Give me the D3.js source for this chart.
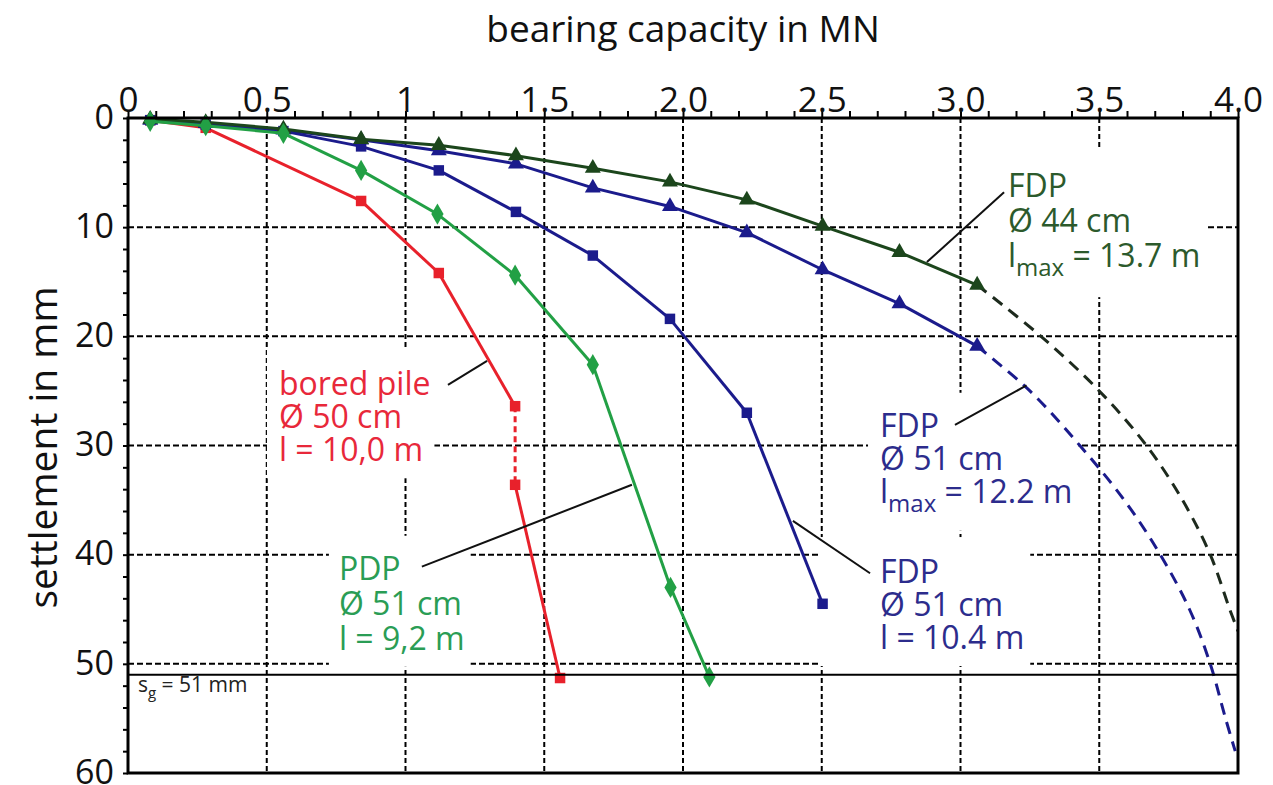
<!DOCTYPE html>
<html><head><meta charset="utf-8">
<script src="https://cdn.jsdelivr.net/npm/d3@7"></script>
<style>
body{margin:0;background:#fff}
svg{display:block}
text{font-family:"Open Sans",sans-serif}
</style>
</head><body>
<svg id="c" width="1273" height="785"></svg>
<script>
// ---------- data ----------
const xTicks = [0, 0.5, 1, 1.5, 2, 2.5, 3, 3.5, 4];
const xTickLabels = ["0", "0.5", "1", "1.5", "2.0", "2.5", "3.0", "3.5", "4.0"];
const yTicks = [0, 10, 20, 30, 40, 50, 60];
const yTickLabels = ["0", "10", "20", "30", "40", "50", "60"];
const sgValue = 51;

// bored pile (red, squares) – segment 4→5 dashed
const boredLoad   = [0.08, 0.28, 0.84, 1.12, 1.395, 1.395, 1.557];
const boredSettle = [0.2, 0.9, 7.6, 14.2, 26.4, 33.6, 51.3];
const boredDashedSeg = 4;

// PDP (green, diamonds)
const pdpLoad   = [0.08, 0.28, 0.56, 0.84, 1.115, 1.395, 1.675, 1.955, 2.095];
const pdpSettle = [0.3, 0.7, 1.4, 4.8, 8.8, 14.4, 22.6, 43.0, 51.2];

// FDP Ø51 l=10.4 (blue, squares)
const fdp104Load   = [0.08, 0.28, 0.56, 0.84, 1.12, 1.398, 1.675, 1.953, 2.23, 2.503];
const fdp104Settle = [0.2, 0.6, 1.2, 2.6, 4.8, 8.6, 12.6, 18.4, 27.0, 44.5];

// FDP Ø51 lmax=12.2 (blue, triangles) + extrapolation
const fdp122Load   = [0.08, 0.28, 0.56, 0.84, 1.12, 1.398, 1.675, 1.953, 2.23, 2.503, 2.78, 3.06];
const fdp122Settle = [0.2, 0.5, 1.1, 2.0, 3.0, 4.2, 6.4, 8.1, 10.5, 13.9, 17.0, 20.9];
const fdp122ExtLoad   = [3.06, 3.25, 3.43, 3.59, 3.72, 3.825, 3.90, 3.955, 3.99];
const fdp122ExtSettle = [20.9, 25, 30, 35, 40, 45, 50, 55, 58];

// FDP Ø44 lmax=13.7 (dark green, triangles) + extrapolation
const fdp137Load   = [0.08, 0.28, 0.56, 0.84, 1.12, 1.398, 1.675, 1.953, 2.23, 2.503, 2.78, 3.06];
const fdp137Settle = [0.1, 0.4, 1.0, 1.95, 2.5, 3.45, 4.6, 5.85, 7.5, 9.9, 12.3, 15.3];
const fdp137ExtLoad   = [3.06, 3.29, 3.50, 3.67, 3.80, 3.90, 3.97, 4.0];
const fdp137ExtSettle = [15.3, 20, 25, 30, 35, 40, 45, 47];

// ---------- layout ----------
const x = d3.scaleLinear().domain([0, 4]).range([128, 1238]);
const y = d3.scaleLinear().domain([0, 60]).range([118, 773]);
const svg = d3.select("#c");

const C = {
  red: "#e8212b", redLabel: "#e8283a",
  pdp: "#22a045", pdpLabel: "#2a9d55",
  blue: "#1b1b8c", blueLabel: "#2c2c8c",
  dark: "#1c461c", darkLabel: "#2c5a2c", darkDash: "#1d2a1d"
};

svg.append("defs").append("clipPath").attr("id", "plot")
  .append("rect").attr("x", x(0)).attr("y", y(0))
  .attr("width", x(4) - x(0)).attr("height", y(60) - y(0));

const gGrid = svg.append("g");
const gMask = svg.append("g");
const gLines = svg.append("g");
const gText = svg.append("g");

// grid
const gridX = xTicks.slice(1, -1), gridY = yTicks.slice(1, -1);
gGrid.selectAll(".gx").data(gridX).join("line")
  .attr("x1", d => x(d)).attr("x2", d => x(d)).attr("y1", y(0)).attr("y2", y(60))
  .attr("stroke", "#000").attr("stroke-width", 2).attr("stroke-dasharray", "5,3");
gGrid.selectAll(".gy").data(gridY).join("line")
  .attr("x1", x(0)).attr("x2", x(4)).attr("y1", d => y(d)).attr("y2", d => y(d))
  .attr("stroke", "#000").attr("stroke-width", 2).attr("stroke-dasharray", "6,3");

// axes
const topMinor = svg.append("g").attr("transform", `translate(0,${y(0)})`)
  .call(d3.axisTop(x).tickValues(d3.range(0, 40.01, 1).map(d => d / 10)).tickSize(7).tickFormat(""));
topMinor.select(".domain").remove();
topMinor.selectAll("line").attr("stroke-width", 2);

const topAxis = svg.append("g").attr("transform", `translate(0,${y(0)})`)
  .call(d3.axisTop(x).tickValues(xTicks).tickSize(0).tickPadding(6)
    .tickFormat((d, i) => xTickLabels[i]));
topAxis.select(".domain").remove();
topAxis.selectAll("text").attr("font-size", 35).attr("fill", "#111")
  .attr("font-family", "Open Sans");

const leftMinor = svg.append("g").attr("transform", `translate(${x(0)},0)`)
  .call(d3.axisLeft(y).tickValues(d3.range(0, 60.01, 2)).tickSize(5).tickFormat(""));
leftMinor.select(".domain").remove();
leftMinor.selectAll("line").attr("stroke-width", 2);

const leftAxis = svg.append("g").attr("transform", `translate(${x(0)},0)`)
  .call(d3.axisLeft(y).tickValues(yTicks).tickSize(0).tickPadding(14)
    .tickFormat((d, i) => yTickLabels[i]));
leftAxis.select(".domain").remove();
leftAxis.selectAll("text").attr("font-size", 34).attr("fill", "#111")
  .attr("font-family", "Open Sans").attr("dy", "0.3em");

// frame
svg.append("rect").attr("x", x(0)).attr("y", y(0))
  .attr("width", x(4) - x(0)).attr("height", y(60) - y(0))
  .attr("fill", "none").attr("stroke", "#000").attr("stroke-width", 3);

// s_g line
svg.append("line").attr("x1", x(0)).attr("x2", x(4)).attr("y1", y(sgValue)).attr("y2", y(sgValue))
  .attr("stroke", "#000").attr("stroke-width", 2);

// axis titles
svg.append("text").attr("x", (x(0) + x(4)) / 2).attr("y", 42).attr("text-anchor", "middle")
  .attr("font-size", 37).attr("fill", "#111").text("bearing capacity in MN");
svg.append("text").attr("transform", `translate(57,${(y(0) + y(60)) / 2 + 2}) rotate(-90)`)
  .attr("text-anchor", "middle").attr("font-size", 39).attr("fill", "#111").text("settlement in mm");

// ---------- series ----------
const line = d3.line().x(d => x(d[0])).y(d => y(d[1]));
const smooth = d3.line().x(d => x(d[0])).y(d => y(d[1])).curve(d3.curveCatmullRom.alpha(0.5));

function series(load, settle, color, symbol, size, dashedSeg) {
  const pts = load.map((v, i) => [v, settle[i]]);
  const g = gLines.append("g");
  for (let i = 0; i < pts.length - 1; i++) {
    g.append("path").attr("d", line([pts[i], pts[i + 1]]))
      .attr("fill", "none").attr("stroke", color).attr("stroke-width", 3)
      .attr("stroke-dasharray", i === dashedSeg ? "6,4" : null);
  }
  g.selectAll(".m").data(pts).join("path")
    .attr("transform", d => `translate(${x(d[0])},${y(d[1])})`)
    .attr("d", d3.symbol().type(symbol).size(size)())
    .attr("fill", color);
}
function ext(load, settle, color) {
  const pts = load.map((v, i) => [v, settle[i]]);
  gLines.append("path").attr("d", smooth(pts)).attr("clip-path", "url(#plot)")
    .attr("fill", "none").attr("stroke", color).attr("stroke-width", 3)
    .attr("stroke-dasharray", "12,8");
}

ext(fdp122ExtLoad, fdp122ExtSettle, C.blue);
ext(fdp137ExtLoad, fdp137ExtSettle, C.darkDash);
series(boredLoad, boredSettle, C.red, d3.symbolSquare, 110, boredDashedSeg);
series(fdp104Load, fdp104Settle, C.blue, d3.symbolSquare, 110, -1);
series(fdp122Load, fdp122Settle, C.blue, d3.symbolTriangle, 110, -1);
series(fdp137Load, fdp137Settle, C.dark, d3.symbolTriangle, 110, -1);
series(pdpLoad, pdpSettle, C.pdp, d3.symbolDiamond, 130, -1);

// ---------- labels ----------
const labels = [
  { x: 3.171, y: 7.25, dy: 35, color: C.darkLabel, lines: [["FDP"], ["Ø 44 cm"], ["l", "max", " = 13.7 m"]],
    leader: [[2.879, 13.2], [3.157, 6.8]], pad: [30, 14, 6, 14] },
  { x: 2.71, y: 29.2, dy: 33, color: C.blueLabel, lines: [["FDP"], ["Ø 51 cm"], ["l", "max", " = 12.2 m"]],
    leader: [[2.98, 28.1], [3.238, 24.5]], pad: [12, 10, 6, 12] },
  { x: 2.71, y: 42.6, dy: 33, color: C.blueLabel, lines: [["FDP"], ["Ø 51 cm"], ["l = 10.4 m"]],
    leader: [[2.674, 41.7], [2.396, 36.9]], pad: [62, 12, 6, 8] },
  { x: 0.544, y: 25.4, dy: 33, color: C.redLabel, lines: [["bored pile"], ["Ø 50 cm"], ["l = 10,0 m"]],
    leader: [[1.153, 24.45], [1.294, 22.25]], pad: [12, 12, 4, 8] },
  { x: 0.76, y: 42.3, dy: 35, color: C.pdpLabel, lines: [["PDP"], ["Ø 51 cm"], ["l = 9,2 m"]],
    leader: [[1.059, 41.1], [1.816, 33.6]], pad: [10, 10, 6, 8] }
];

labels.forEach(L => {
  const t = gText.append("text").attr("font-size", 32).attr("fill", L.color);
  L.lines.forEach((parts, li) => {
    const ty = y(L.y) + li * L.dy;
    if (parts.length === 1) {
      t.append("tspan").attr("x", x(L.x)).attr("y", ty).text(parts[0]);
    } else {
      t.append("tspan").attr("x", x(L.x)).attr("y", ty).text(parts[0]);
      t.append("tspan").attr("y", ty + 9).attr("font-size", 24).text(parts[1]);
      t.append("tspan").attr("y", ty).text(parts[2]);
    }
  });
  const b = t.node().getBBox();
  gMask.append("rect").attr("x", b.x - L.pad[0]).attr("y", b.y - L.pad[1])
    .attr("width", b.width + L.pad[0] + L.pad[2]).attr("height", b.height + L.pad[1] + L.pad[3])
    .attr("fill", "#fff");
  gText.append("path").attr("d", line(L.leader)).attr("stroke", "#111").attr("stroke-width", 2);
});

// s_g label
const sgT = gText.append("text").attr("x", x(0.036)).attr("y", y(52.6)).attr("font-size", 21).attr("fill", "#222");
sgT.append("tspan").text("s");
sgT.append("tspan").attr("dy", 6).attr("font-size", 15).text("g");
sgT.append("tspan").attr("dy", -6).text(" = 51 mm");
</script>
</body></html>
